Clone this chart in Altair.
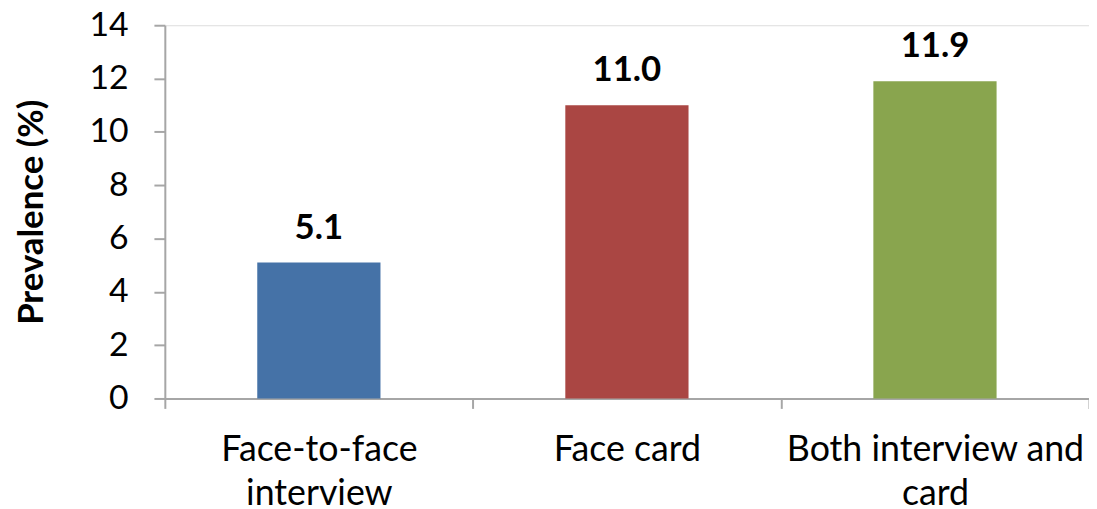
import altair as alt
import pandas as pd

categories = ["Face-to-face interview", "Face card", "Both interview and card"]
label_lines = [["Face-to-face", "interview"], ["Face card"], ["Both interview and", "card"]]
values = [5.1, 11.0, 11.9]
value_labels = ["5.1", "11.0", "11.9"]
colors = ["#4572A7", "#AA4643", "#89A54E"]
y_ticks = [0, 2, 4, 6, 8, 10, 12, 14]

df = pd.DataFrame({"cat": categories, "val": values, "lab": value_labels})

# label expression for multi-line x labels
parts = []
for c, lines in zip(categories, label_lines):
    arr = "[" + ",".join("'" + s + "'" for s in lines) + "]"
    parts.append(f"datum.label == '{c}' ? {arr} : ")
label_expr = "".join(parts) + "datum.label"

FONT = "Lato"

x = alt.X(
    "cat:N",
    sort=categories,
    scale=alt.Scale(paddingInner=0, paddingOuter=0),
    axis=alt.Axis(
        title=None,
        labelAngle=0,
        labelExpr=label_expr,
        labelFont=FONT,
        labelFontSize=36,
        labelColor="#000000",
        labelLineHeight=45,
        labelLimit=0,
        labelPadding=24,
        tickBand="extent",
        tickSize=10,
        tickColor="#A6A6A6",
        tickWidth=2,
        domainColor="#A6A6A6",
        domainWidth=2,
    ),
)

y = alt.Y(
    "val:Q",
    scale=alt.Scale(domain=[0, 14], nice=False),
    axis=alt.Axis(
        values=y_ticks,
        title="Prevalence (%)",
        titleFont=FONT,
        titleFontSize=35,
        titleFontWeight="bold",
        titleColor="#000000",
        titleAngle=-90,
        titleAlign="center",
        titleBaseline="middle",
        titleX=-134,
        titleY=188,
        labelFont=FONT,
        labelFontSize=34,
        labelColor="#000000",
        labelPadding=26,
        tickSize=11,
        tickColor="#A6A6A6",
        tickWidth=2,
        domainColor="#A6A6A6",
        domainWidth=2,
        grid=False,
    ),
)

bars = alt.Chart(df).mark_bar(width={"band": 0.4}).encode(
    x=x,
    y=y,
    color=alt.Color("cat:N", scale=alt.Scale(domain=categories, range=colors), legend=None),
)

text = alt.Chart(df).mark_text(
    baseline="bottom", dy=-17, font=FONT, fontSize=35, fontWeight="bold", color="#000000"
).encode(
    x=alt.X("cat:N", sort=categories),
    y="val:Q",
    text="lab:N",
)

chart = (
    alt.layer(bars, text)
    .properties(
        width=931,
        height=376,
        autosize=alt.AutoSizeParams(type="none"),
        padding={"left": 158, "top": 15.5, "right": 0, "bottom": 109.5},
    )
    .configure_view(stroke=None)
    .configure(background="#FFFFFF")
)

chart.save("out.html", embed_options={"renderer": "svg", "actions": False})
